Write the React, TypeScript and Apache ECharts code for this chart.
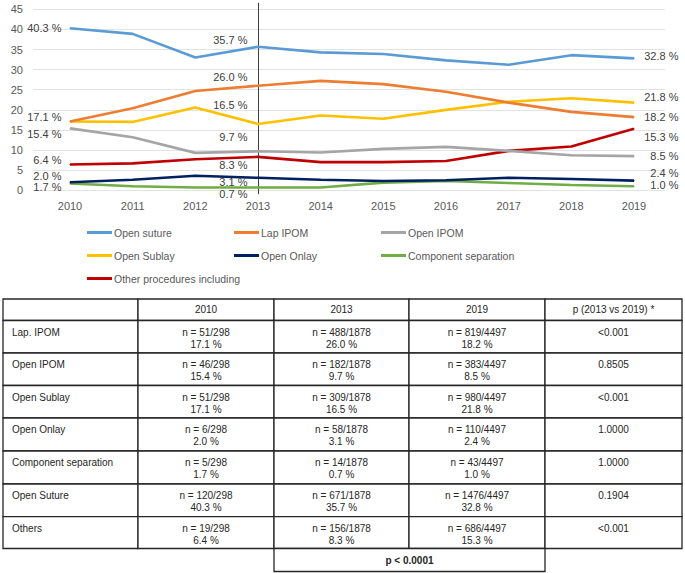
import React, { useEffect, useRef } from "react";
import * as echarts from "echarts";

const years = ["2010", "2011", "2012", "2013", "2014", "2015", "2016", "2017", "2018", "2019"];
const openSuture = [40.3, 38.9, 33.0, 35.7, 34.3, 33.9, 32.3, 31.2, 33.6, 32.8];
const lapIPOM = [17.1, 20.4, 24.7, 26.0, 27.2, 26.4, 24.5, 21.8, 19.5, 18.2];
const openIPOM = [15.4, 13.2, 9.3, 9.7, 9.4, 10.3, 10.8, 9.8, 8.7, 8.5];
const openSublay = [17.1, 17.0, 20.6, 16.5, 18.6, 17.8, 20.0, 22.0, 22.9, 21.8];
const openOnlay = [2.0, 2.6, 3.6, 3.1, 2.6, 2.3, 2.5, 3.1, 2.8, 2.4];
const componentSeparation = [1.7, 1.0, 0.7, 0.7, 0.7, 1.9, 2.3, 1.8, 1.3, 1.0];
const otherProcedures = [6.4, 6.7, 7.7, 8.3, 7.0, 7.0, 7.3, 9.8, 10.9, 15.3];
const yTicks = { min: 0, max: 45, interval: 5 };

// table
const tableHeader = ["", "2010", "2013", "2019", "p (2013 vs 2019) *"];
const tableRows = ["Lap. IPOM", "Open IPOM", "Open Sublay", "Open Onlay", "Component separation", "Open Suture", "Others"];
const totals = [298, 1878, 4497];
const counts2010 = [51, 46, 51, 6, 5, 120, 19];
const counts2013 = [488, 182, 309, 58, 14, 671, 156];
const counts2019 = [819, 383, 980, 110, 43, 1476, 686];
const pct2010 = [17.1, 15.4, 17.1, 2.0, 1.7, 40.3, 6.4];
const pct2013 = [26.0, 9.7, 16.5, 3.1, 0.7, 35.7, 8.3];
const pct2019 = [18.2, 8.5, 21.8, 2.4, 1.0, 32.8, 15.3];
const pValues = ["<0.001", "0.8505", "<0.001", "1.0000", "1.0000", "0.1904", "<0.001"];
const overallP = "p < 0.0001";

// label vertical nudges at 2010, 2013, 2019 (null = no label)
const labelNudges: Record<string, (number | null)[]> = {
  "Open suture": [0, -7, -2],
  "Lap IPOM": [null, -9, 0],
  "Open IPOM": [6, -14.6, 0],
  "Open Sublay": [-5, -18.6, -5.6],
  "Open Onlay": [-6, 4, -8],
  "Component separation": [4, 6.5, -1],
  "Other procedures including": [-4.6, 8, 8],
};
const labelIdx = [0, 3, 9];

const seriesDefs = [
  { name: "Open suture", values: openSuture, color: "#5b9bd5" },
  { name: "Lap IPOM", values: lapIPOM, color: "#ed7d31" },
  { name: "Open IPOM", values: openIPOM, color: "#a5a5a5" },
  { name: "Open Sublay", values: openSublay, color: "#ffc000" },
  { name: "Open Onlay", values: openOnlay, color: "#002060" },
  { name: "Component separation", values: componentSeparation, color: "#70ad47" },
  { name: "Other procedures including", values: otherProcedures, color: "#c00000" },
];

const FONT = "'Liberation Sans', Arial, sans-serif";

function buildGraphic() {
  const xs = [3, 138, 274, 409, 545, 682];
  const ys = [299, 320.5, 353, 385.5, 418, 451, 484, 516.7, 548.5];
  const els: any[] = [];
  const stroke = { stroke: "#262626", lineWidth: 1.3, fill: "#fff" };
  const txt = (x: number, y: number, text: string, align: string, bold = false) => ({
    type: "text",
    x,
    y,
    style: {
      text,
      x: 0,
      y: 0,
      fill: "#262626",
      font: `${bold ? "bold " : ""}10px ${FONT}`,
      align,
      verticalAlign: "middle",
    },
  });
  for (let r = 0; r < ys.length - 1; r++) {
    for (let c = 0; c < xs.length - 1; c++) {
      els.push({
        type: "rect",
        shape: { x: xs[c], y: ys[r], width: xs[c + 1] - xs[c], height: ys[r + 1] - ys[r] },
        style: stroke,
      });
    }
  }
  tableHeader.forEach((h, c) => {
    if (h) els.push(txt((xs[c] + xs[c + 1]) / 2, (ys[0] + ys[1]) / 2, h, "center"));
  });
  const counts = [counts2010, counts2013, counts2019];
  const pcts = [pct2010, pct2013, pct2019];
  tableRows.forEach((name, i) => {
    const top = ys[i + 1];
    els.push(txt(xs[0] + 9, top + 11.5, name, "left"));
    for (let k = 0; k < 3; k++) {
      const cx = (xs[k + 1] + xs[k + 2]) / 2;
      els.push(txt(cx, top + 11.5, `n = ${counts[k][i]}/${totals[k]}`, "center"));
      els.push(txt(cx, top + 23.5, `${pcts[k][i].toFixed(1)} %`, "center"));
    }
    els.push(txt((xs[4] + xs[5]) / 2, top + 11.5, pValues[i], "center"));
  });
  els.push({
    type: "rect",
    shape: { x: xs[2], y: ys[ys.length - 1], width: xs[4] - xs[2], height: 23 },
    style: stroke,
  });
  els.push(txt((xs[2] + xs[4]) / 2, ys[ys.length - 1] + 11.5, overallP, "center", true));
  return els;
}

export default function App() {
  const ref = useRef<HTMLDivElement>(null);
  useEffect(() => {
    if (!ref.current) return;
    const chart = echarts.init(ref.current, undefined, { renderer: "svg" });
    const series: any[] = seriesDefs.map((s, si) => ({
      name: s.name,
      type: "line",
      xAxisIndex: 0,
      yAxisIndex: 0,
      symbol: "circle",
      symbolSize: 1,
      clip: false,
      itemStyle: { color: s.color },
      lineStyle: { color: s.color, width: 2.6 },
      z: 10 - si,
      data: s.values.map((v, i) => {
        const li = labelIdx.indexOf(i);
        const nudge = li >= 0 ? labelNudges[s.name][li] : null;
        if (li < 0 || nudge === null) return { value: v, label: { show: false } };
        const isEnd = li === 2;
        return {
          value: v,
          label: {
            show: true,
            position: isEnd ? "right" : "left",
            distance: isEnd ? 44 : li === 0 ? 8 : 10,
            align: "right",
            offset: [0, nudge],
            formatter: (p: any) => `${Number(p.value).toFixed(1)} %`,
            fontSize: 11,
            fontFamily: FONT,
            color: "#404040",
          },
        };
      }),
    }));
    series[0].markLine = {
      silent: true,
      symbol: ["none", "none"],
      label: { show: false },
      lineStyle: { color: "#404040", width: 1, type: "solid" },
      data: [{ xAxis: years[3] }],
    };
    const legendBase = {
      orient: "vertical",
      top: 227,
      padding: 0,
      icon: "rect",
      itemWidth: 25,
      itemHeight: 3,
      itemGap: 12,
      textStyle: { fontSize: 10.5, color: "#595959", fontFamily: FONT, padding: [0, 0, 0, -3] },
      selectedMode: false,
    };
    chart.setOption({
      animation: false,
      backgroundColor: "#fff",
      grid: [
        { left: 70, right: 51, top: 2.9, bottom: 573 - 194.3 },
        { left: 33, right: 20, top: 9.3, bottom: 573 - 190.3 },
      ],
      xAxis: [
        {
          type: "category",
          gridIndex: 0,
          data: years,
          boundaryGap: false,
          axisLine: { show: false },
          axisTick: { show: false },
          axisLabel: { fontSize: 11, color: "#595959", fontFamily: FONT, margin: 6 },
          splitLine: { show: false },
        },
        { type: "value", gridIndex: 1, min: 0, max: 1, show: false },
      ],
      yAxis: [
        { type: "value", gridIndex: 0, min: -1, max: 46.6, show: false, splitLine: { show: false } },
        {
          type: "value",
          gridIndex: 1,
          min: yTicks.min,
          max: yTicks.max,
          interval: yTicks.interval,
          axisLine: { show: false },
          axisTick: { show: false },
          axisLabel: { fontSize: 11, color: "#595959", fontFamily: FONT, margin: 10 },
          splitLine: { lineStyle: { color: "#e3e3e3", width: 1 } },
        },
      ],
      legend: [
        { ...legendBase, left: 87, data: ["Open suture", "Open Sublay", "Other procedures including"] },
        { ...legendBase, left: 234, data: ["Lap IPOM", "Open Onlay"] },
        { ...legendBase, left: 381, data: ["Open IPOM", "Component separation"] },
      ],
      series,
      graphic: buildGraphic(),
    });
    return () => chart.dispose();
  }, []);
  return (
    <div
      ref={ref}
      style={{ position: "fixed", left: 0, top: 0, width: 685, height: 573, background: "#fff" }}
    />
  );
}
